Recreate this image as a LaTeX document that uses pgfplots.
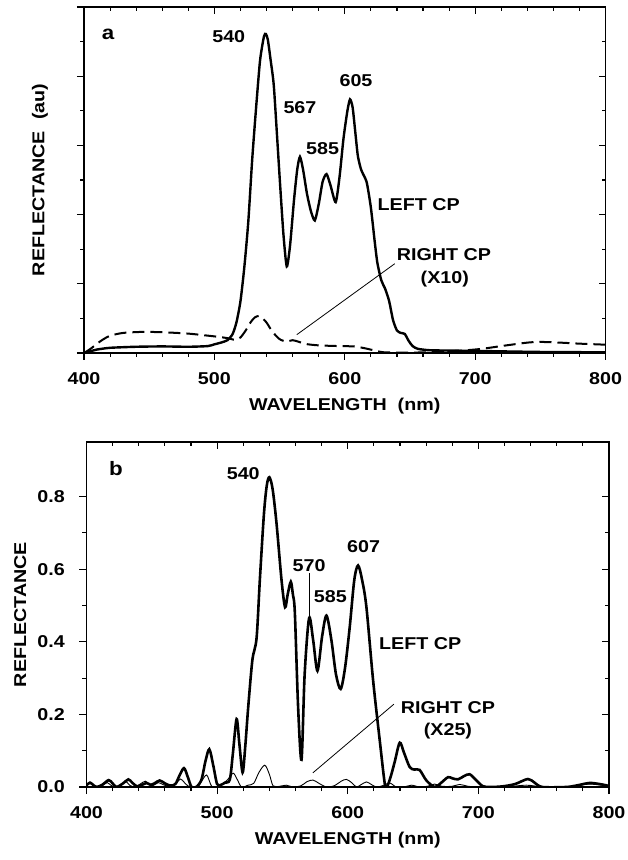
\documentclass[border=0pt]{standalone}
\usepackage{fontspec}
\setmainfont{Liberation Sans}[FakeStretch=1.15]
\usepackage{pgfplots}
\pgfplotsset{compat=1.18}
\newcommand{\lf}{\bfseries\fontsize{17.2}{20}\selectfont}
\newcommand{\pf}{\bfseries\fontsize{19.5}{22}\selectfont}
\pgfplotsset{
  common/.style={scale only axis, xmin=400, xmax=800, xtick={400,500,...,800},
    minor x tick num=4, major tick length=7bp, minor tick length=4bp,
    axis line style={line width=1.4bp}, tick style={black, line width=1.1bp},
    /pgf/number format/assume math mode=true},
  main/.style={common, tick align=outside, xtick pos=left, ytick pos=left,
    tick label style={font=\lf}, label style={font=\lf},
    xticklabel style={anchor=center, yshift=-18.5bp}},
  mirror/.style={common, tick align=inside, xtick pos=right, ytick pos=right,
    xticklabels={}, yticklabels={}},
}
\begin{document}
\begin{tikzpicture}
\useasboundingbox (0,0) rectangle (628bp,860bp);
% ---------------- panel a ----------------
\begin{axis}[main, width=521.6bp, height=346bp, at={(84bp,507bp)}, anchor=south west,
  ymin=0, ymax=10, ytick={0,2,...,10}, minor y tick num=1, yticklabels={},
  xlabel={WAVELENGTH\ \ (nm)}, ylabel={REFLECTANCE\ \ (au)},
  xlabel style={at={(axis description cs:0.5,-0.153)}, anchor=center},
  ylabel style={at={(axis description cs:-0.0844,0.5)}, anchor=center}]
\addplot[black, line width=2.4bp, smooth, tension=0.4] coordinates {
(400,0) (405,0.05) (410,0.1) (420,0.15) (440,0.18) (460,0.19) (480,0.18) (495,0.2)
(500,0.25) (505,0.3) (510,0.37) (514,0.55) (517,0.9) (520,1.5) (523,2.5) (526,3.8)
(529,5.6) (532,7.1) (535,8.45) (538,9.15) (539.5,9.22) (541,9.05) (543,8.5) (545.5,7.75)
(548,6.3) (550.5,4.8) (553,3.4) (555.5,2.5) (558,3.1) (561,4.4) (563.5,5.3) (565.6,5.67)
(568,5.3) (571,4.6) (574,4.1) (577,3.83) (580,4.3) (583,4.95) (586,5.17) (589,4.85)
(593,4.36) (596,5.1) (599,6.2) (602,7.0) (604,7.33) (606,7.1) (608,6.4) (610,5.7)
(612.5,5.3) (615,5.1) (617,4.9) (620,4.2) (623,3.2) (625,2.6) (628,2.1) (631,1.85)
(634,1.5) (637,0.95) (640,0.65) (643,0.58) (646,0.55) (649,0.35) (652,0.2) (656,0.12)
(665,0.08) (680,0.07) (700,0.06) (750,0.03) (800,0.02)};
\addplot[black, line width=2bp, dash pattern=on 12bp off 6bp, smooth, tension=0.4] coordinates {
(400,0) (405,0.12) (410,0.27) (415,0.4) (420,0.5) (430,0.58) (445,0.61) (460,0.6)
(480,0.56) (500,0.48) (510,0.43) (516,0.38) (520,0.45) (524,0.65) (528,0.9) (531,1.03)
(534,1.07) (537,1.0) (540,0.88) (543,0.7) (546,0.55) (550,0.4) (555,0.33) (560,0.37)
(565,0.32) (570,0.26) (580,0.22) (595,0.2) (607,0.19) (615,0.14) (622,0.08) (630,0.02)
(650,0.01) (670,0.03) (690,0.07) (705,0.12) (720,0.2) (740,0.3) (750,0.32) (765,0.3)
(780,0.27) (800,0.24)};
\addplot[black, line width=0.8bp] coordinates {(638.3,2.58) (563.2,0.53)};
\node[font=\pf] at (axis cs:418.4,9.2) {a};
\node[font=\lf] at (axis cs:511,9.15) {540};
\node[font=\lf] at (axis cs:565.6,7.1) {567};
\node[font=\lf] at (axis cs:583,5.9) {585};
\node[font=\lf] at (axis cs:608.6,7.87) {605};
\node[font=\lf] at (axis cs:656.7,4.29) {LEFT CP};
\node[font=\lf] at (axis cs:676,2.84) {RIGHT CP};
\node[font=\lf] at (axis cs:676.7,2.14) {(X10)};
\end{axis}
\begin{axis}[mirror, width=521.6bp, height=346bp, at={(84bp,507bp)}, anchor=south west,
  ymin=0, ymax=10, ytick={0,2,...,10}, minor y tick num=1]
\end{axis}
% ---------------- panel b ----------------
\begin{axis}[main, width=522.5bp, height=345bp, at={(86.5bp,73bp)}, anchor=south west,
  ymin=0, ymax=0.95, ytick={0,0.2,...,0.8}, minor y tick num=1,
  yticklabel style={/pgf/number format/.cd, fixed, fixed zerofill, precision=1, /tikz/.cd, anchor=east, inner sep=0pt, xshift=-14.5bp},
  xlabel={WAVELENGTH (nm)}, ylabel={REFLECTANCE},
  xlabel style={at={(axis description cs:0.5,-0.155)}, anchor=center},
  ylabel style={at={(axis description cs:-0.127,0.5)}, anchor=center}]
\addplot[black, line width=2.6bp, smooth, tension=0.5] coordinates {
(400,0.005) (402.7,0.012) (405,0.006) (407.8,0.0) (412,0.006) (417,0.019) (420,0.01)
(423,0.0) (428,0.01) (432,0.021) (435,0.012) (438.4,0.002) (442,0.005) (446,0.011)
(449,0.006) (452,0.01) (456,0.018) (460,0.01) (464,0.004) (468,0.008) (471,0.03)
(474.6,0.052) (477.5,0.028) (480.4,0.0) (484,0.0) (488,0.02) (491,0.07) (494,0.104)
(497,0.06) (500,0.008) (503,0.006) (506,0.012) (509.7,0.02) (512,0.09) (514.9,0.187)
(517,0.12) (519.5,0.04) (521.5,0.11) (523.8,0.22) (527,0.35) (530.2,0.41)
(532.7,0.57) (535.8,0.75) (538,0.83) (540,0.853) (542.5,0.82) (545.5,0.725) (549.3,0.57)
(552,0.495) (554,0.53) (556.4,0.565) (558,0.53) (559.5,0.48) (562,0.22) (564.6,0.075)
(567,0.31) (570.4,0.465) (573.5,0.405) (576.8,0.32) (580.3,0.413) (583.7,0.472)
(587.5,0.404) (591,0.31) (594.6,0.27) (598,0.33) (601.5,0.44) (605,0.57) (607.9,0.61)
(611,0.57) (614.3,0.495) (619.4,0.294) (624.5,0.128) (628.3,0.01) (630,0.0) (633,0.03)
(636,0.07) (639.8,0.122) (643,0.095) (647.4,0.055) (651,0.048) (655,0.047) (660.2,0.018)
(666.5,0.0) (671,0.01) (676.7,0.027) (680,0.024) (684.4,0.021) (689,0.03) (693.3,0.035)
(698,0.02) (703.5,0.002) (710,0.0) (719,0.002) (728,0.008) (737.9,0.022) (743,0.012)
(749,0.0) (767,0.0) (775,0.004) (785,0.011) (793,0.008) (800,0.003)};
\addplot[black, line width=0.9bp, smooth, tension=0.5] coordinates {
(400,0.008) (403,0.012) (406,0.004) (410,0.0) (413,0.006) (416,0.012) (419,0.004)
(423,0.0) (427,0.008) (430,0.016) (433,0.005) (437,0.0) (441,0.008) (445,0.016)
(448,0.008) (451,0.004) (455,0.012) (459,0.006) (463,0.002) (468,0.008) (472,0.022)
(475,0.012) (479,0.0) (485,0.0) (488,0.015) (492,0.033) (495.8,0.002) (500,0.0)
(504,0.008) (508,0.02) (512.3,0.038) (515.5,0.02) (518.7,0.0) (523.7,0.005) (528,0.01)
(532,0.04) (536.5,0.06) (540,0.035) (542.9,0.003) (548,0.002) (553,0.005) (558,0.0)
(564,0.003) (569,0.015) (573.5,0.019) (578,0.01) (583.7,0.0) (590,0.004) (595,0.016)
(599,0.021) (603,0.012) (606.6,0.0) (610,0.006) (614.3,0.014) (618,0.007) (622,0.0)
(627,0.004) (632.1,0.011) (637.2,0.0) (643,0.0) (648.8,0.005) (655,0.0) (661,0.002)
(666.5,0.008) (672,0.002) (680,0.002) (685.7,0.007) (692,0.002) (700,0.0) (720,0.0)
(736.7,0.005) (750,0.0) (770,0.001) (785,0.008) (800,0.002)};
\addplot[black, line width=0.8bp] coordinates {(635.3,0.228) (573.3,0.039)};
\addplot[black, line width=0.8bp] coordinates {(570.4,0.589) (570.4,0.47)};
\node[font=\pf] at (axis cs:422.6,0.876) {b};
\node[font=\lf] at (axis cs:520,0.862) {540};
\node[font=\lf] at (axis cs:570.4,0.61) {570};
\node[font=\lf] at (axis cs:586.7,0.523) {585};
\node[font=\lf] at (axis cs:612.2,0.662) {607};
\node[font=\lf] at (axis cs:655.5,0.395) {LEFT CP};
\node[font=\lf] at (axis cs:676.7,0.22) {RIGHT CP};
\node[font=\lf] at (axis cs:676.7,0.154) {(X25)};
\end{axis}
\begin{axis}[mirror, width=522.5bp, height=345bp, at={(86.5bp,73bp)}, anchor=south west,
  ymin=0, ymax=0.95, ytick={0,0.2,...,0.8}, minor y tick num=1]
\end{axis}
\end{tikzpicture}
\end{document}
